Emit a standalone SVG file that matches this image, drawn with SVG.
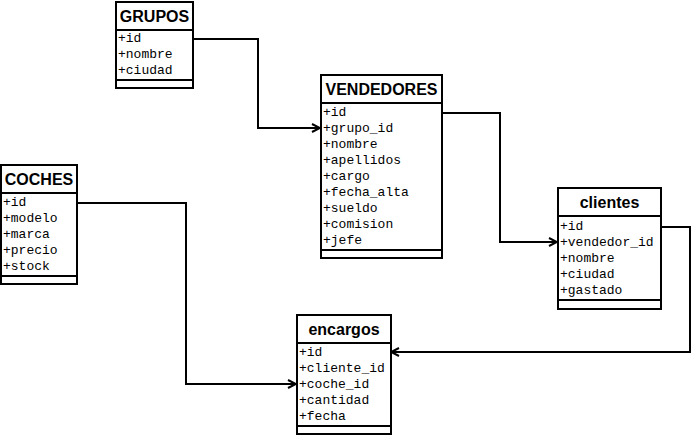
<svg xmlns="http://www.w3.org/2000/svg" width="691" height="435" viewBox="0 0 691 435">
  <style>
    .box { fill: #ffffff; stroke: #000000; stroke-width: 2; }
    .sep { stroke: #000000; stroke-width: 2; }
    .title { font-family: "Liberation Sans", Arial, sans-serif; font-weight: bold; font-size: 16px; text-anchor: middle; fill: #000; }
    .attr { font-family: "Liberation Mono", "Courier New", monospace; font-size: 13px; fill: #000; }
    .edge { fill: none; stroke: #000000; stroke-width: 2; }
  </style>
  <defs>
    <marker id="open" viewBox="0 0 10 10" refX="9" refY="5" markerWidth="10" markerHeight="10" markerUnits="userSpaceOnUse" orient="auto">
      <path d="M1,1 L9,5 L1,9" fill="none" stroke="#000" stroke-width="2"/>
    </marker>
  </defs>

  <rect width="691" height="435" fill="#ffffff"/>

  <!-- connectors -->
  <g id="connectors">
    <polyline class="edge" points="193,39 258,39 258,128 320,128" marker-end="url(#open)"/>
    <polyline class="edge" points="442,113 500,113 500,242 557,242" marker-end="url(#open)"/>
    <polyline class="edge" points="661,227 690,227 690,352 391,352" marker-end="url(#open)"/>
    <polyline class="edge" points="77,203 186,203 186,384 296,384" marker-end="url(#open)"/>
  </g>

  <!-- GRUPOS -->
  <g id="grupos">
    <rect class="box" x="116" y="2" width="77" height="86"/>
    <line class="sep" x1="116" y1="30" x2="193" y2="30"/>
    <line class="sep" x1="116" y1="80" x2="193" y2="80"/>
    <text class="title" x="154.5" y="22">GRUPOS</text>
    <text class="attr" x="118" y="42">+id</text>
    <text class="attr" x="118" y="58">+nombre</text>
    <text class="attr" x="118" y="74">+ciudad</text>
  </g>

  <!-- VENDEDORES -->
  <g id="vendedores">
    <rect class="box" x="321" y="75" width="121" height="183"/>
    <line class="sep" x1="321" y1="103" x2="442" y2="103"/>
    <line class="sep" x1="321" y1="250" x2="442" y2="250"/>
    <text class="title" x="381.5" y="95">VENDEDORES</text>
    <text class="attr" x="323" y="116">+id</text>
    <text class="attr" x="323" y="132">+grupo_id</text>
    <text class="attr" x="323" y="148">+nombre</text>
    <text class="attr" x="323" y="164">+apellidos</text>
    <text class="attr" x="323" y="180">+cargo</text>
    <text class="attr" x="323" y="196">+fecha_alta</text>
    <text class="attr" x="323" y="212">+sueldo</text>
    <text class="attr" x="323" y="228">+comision</text>
    <text class="attr" x="323" y="244">+jefe</text>
  </g>

  <!-- COCHES -->
  <g id="coches">
    <rect class="box" x="1" y="165" width="76" height="119"/>
    <line class="sep" x1="1" y1="193" x2="77" y2="193"/>
    <line class="sep" x1="1" y1="276" x2="77" y2="276"/>
    <text class="title" x="39" y="185">COCHES</text>
    <text class="attr" x="3" y="206">+id</text>
    <text class="attr" x="3" y="222">+modelo</text>
    <text class="attr" x="3" y="238">+marca</text>
    <text class="attr" x="3" y="254">+precio</text>
    <text class="attr" x="3" y="270">+stock</text>
  </g>

  <!-- clientes -->
  <g id="clientes">
    <rect class="box" x="558" y="188" width="103" height="121"/>
    <line class="sep" x1="558" y1="216" x2="661" y2="216"/>
    <line class="sep" x1="558" y1="300" x2="661" y2="300"/>
    <text class="title" x="609.5" y="208">clientes</text>
    <text class="attr" x="560" y="230">+id</text>
    <text class="attr" x="560" y="246">+vendedor_id</text>
    <text class="attr" x="560" y="262">+nombre</text>
    <text class="attr" x="560" y="278">+ciudad</text>
    <text class="attr" x="560" y="294">+gastado</text>
  </g>

  <!-- encargos -->
  <g id="encargos">
    <rect class="box" x="297" y="315" width="94" height="119"/>
    <line class="sep" x1="297" y1="343" x2="391" y2="343"/>
    <line class="sep" x1="297" y1="426" x2="391" y2="426"/>
    <text class="title" x="344" y="335">encargos</text>
    <text class="attr" x="299" y="356">+id</text>
    <text class="attr" x="299" y="372">+cliente_id</text>
    <text class="attr" x="299" y="388">+coche_id</text>
    <text class="attr" x="299" y="404">+cantidad</text>
    <text class="attr" x="299" y="420">+fecha</text>
  </g>
</svg>
